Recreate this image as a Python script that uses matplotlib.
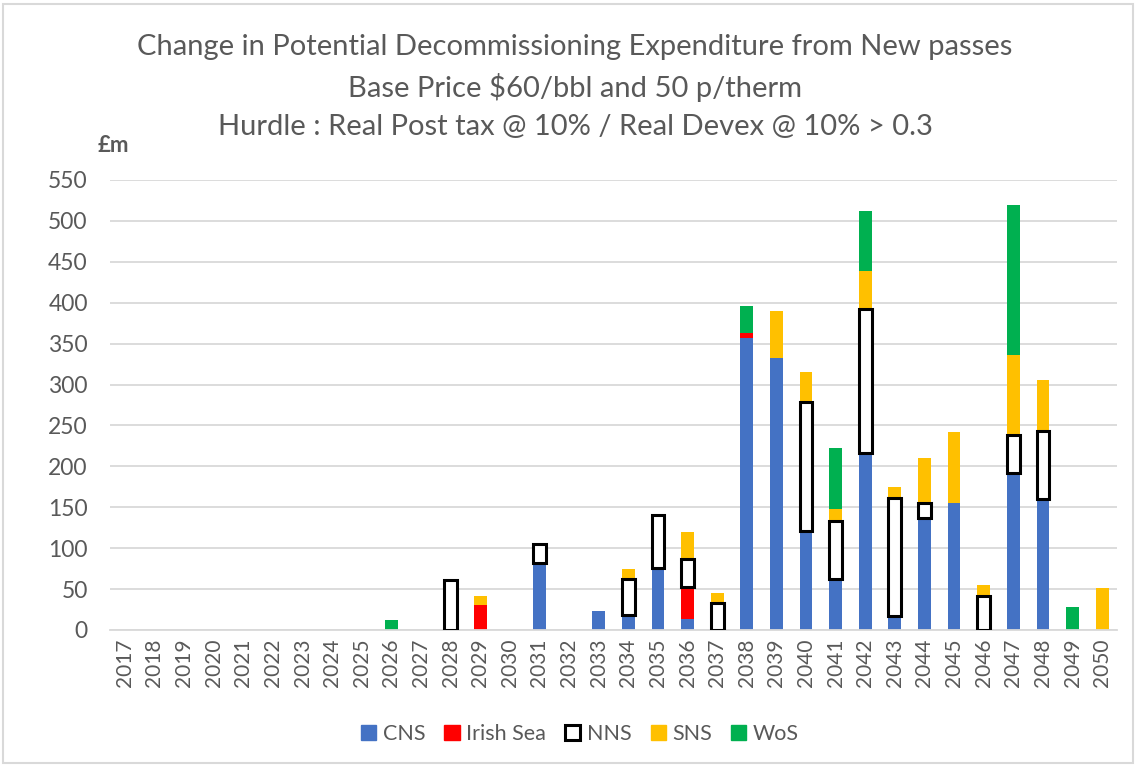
import matplotlib
matplotlib.use('Agg')
import matplotlib.pyplot as plt
from matplotlib.patches import Patch, Rectangle
import numpy as np

plt.rcParams['font.family'] = ['Lato', 'DejaVu Sans']

# 年份 2017..2050
years = [str(y) for y in range(2017, 2051)]

# 各区域数值 (£m)，按年份顺序
cns = [0, 0, 0, 0, 0, 0, 0, 0, 0, 0, 0, 0, 0, 0, 82, 0, 23, 18, 76, 14,
       0, 357, 332, 121, 62, 216, 17, 137, 155, 0, 192, 160, 0, 0]
irish_sea = [0, 0, 0, 0, 0, 0, 0, 0, 0, 0, 0, 0, 31, 0, 0, 0, 0, 0, 0, 38,
             0, 6, 0, 0, 0, 0, 0, 0, 0, 0, 0, 0, 0, 0]
nns = [0, 0, 0, 0, 0, 0, 0, 0, 0, 0, 0, 61, 0, 0, 23, 0, 0, 44, 64, 35,
       33, 0, 0, 158, 71, 176, 144, 18, 0, 42, 46, 83, 0, 0]
sns = [0, 0, 0, 0, 0, 0, 0, 0, 0, 0, 0, 0, 10, 0, 0, 0, 0, 13, 0, 33,
       12, 0, 58, 36, 15, 47, 14, 55, 87, 13, 98, 62, 0, 51]
wos = [0, 0, 0, 0, 0, 0, 0, 0, 0, 12, 0, 0, 0, 0, 0, 0, 0, 0, 0, 0,
       0, 33, 0, 0, 74, 73, 0, 0, 0, 0, 184, 0, 28, 0]

series_names = ['CNS', 'Irish Sea', 'NNS', 'SNS', 'WoS']
title_lines = ['Change in Potential Decommissioning Expenditure from New passes',
               'Base Price $60/bbl and 50 p/therm',
               'Hurdle : Real Post tax @ 10% / Real Devex @ 10% > 0.3']

grey = '#595959'
styles = {
    'CNS': dict(color='#4472C4'),
    'Irish Sea': dict(color='#FF0000'),
    'NNS': dict(facecolor='white', edgecolor='black', linewidth=2.2),
    'SNS': dict(color='#FFC000'),
    'WoS': dict(color='#00B050'),
}

fig = plt.figure(figsize=(11.36, 7.67), dpi=100)
ax = fig.add_axes([110 / 1136, 137 / 767, 1007 / 1136, 450 / 767])

x = np.arange(len(years))
bottom = np.zeros(len(years))
for name, vals in zip(series_names, [cns, irish_sea, nns, sns, wos]):
    vals = np.array(vals, dtype=float)
    m = vals > 0
    ax.bar(x[m], vals[m], 0.43, bottom=bottom[m], zorder=3 if name == 'NNS' else 2,
           **styles[name])
    bottom += vals

ax.set_xlim(-0.5, len(years) - 0.5)
ax.set_ylim(0, 550)
ax.set_yticks(np.arange(0, 551, 50))
ax.set_xticks(x)
ax.set_xticklabels(years, rotation=90)
ax.tick_params(axis='y', length=0, labelsize=16.5, labelcolor=grey, pad=16)
ax.tick_params(axis='x', length=0, labelsize=15, labelcolor=grey, pad=6)
ax.grid(axis='y', color='#d9d9d9', linewidth=1.3, zorder=0)
ax.set_axisbelow(True)
for s in ['top', 'right', 'left']:
    ax.spines[s].set_visible(False)
ax.spines['bottom'].set_color('#d9d9d9')
ax.spines['bottom'].set_linewidth(1.3)

for i, line in enumerate(title_lines):
    fig.text(575 / 1136, 1 - (47 + 40 * i) / 767, line, ha='center', va='center',
             fontsize=21, color=grey)
fig.text(98 / 1136, 1 - 146 / 767, '£m', ha='left', va='center', fontsize=16,
         fontweight='bold', color=grey)

handles = [Patch(**styles[n]) for n in series_names]
fig.legend(handles, series_names, loc='center', bbox_to_anchor=(580 / 1136, 1 - 734 / 767),
           ncol=5, frameon=False, fontsize=15.5, labelcolor=grey, handlelength=0.7,
           handleheight=0.7, handletextpad=0.3, columnspacing=0.9)

fig.patches.append(Rectangle((0.003, 0.005), 0.994, 0.99, transform=fig.transFigure,
                             fill=False, edgecolor='#d9d9d9', linewidth=1.5))

fig.savefig('out.png', dpi=100)
